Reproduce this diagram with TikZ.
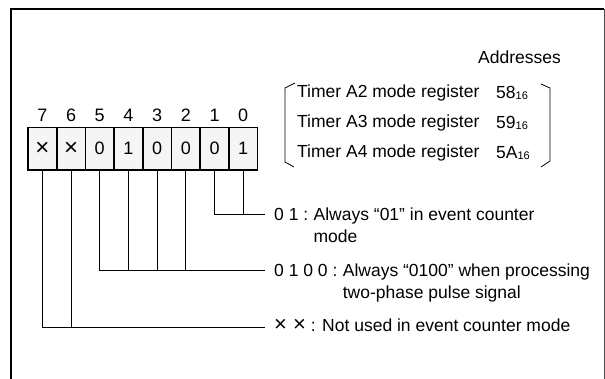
\documentclass[tikz,border=0pt]{standalone}
\usepackage{fontspec}
\setmainfont{Liberation Sans}
\newcommand{\hexsub}[1]{{\fontsize{11}{11}\selectfont\raisebox{-1pt}{#1}}}
\begin{document}
\begin{tikzpicture}[x=1pt,y=-1pt,
  txt/.style={inner sep=0pt, font=\fontsize{17.5}{22}\selectfont},
  cell/.style={draw, line width=1.6pt, fill=black!4, minimum width=28.7pt, minimum height=42.5pt, inner sep=0pt, font=\fontsize{18}{20}\selectfont},
  bitnum/.style={inner sep=0pt, font=\fontsize{18}{20}\selectfont},
  conn/.style={line width=0.8pt}]
\useasboundingbox (0,0) rectangle (605,379);
% frame
\draw[line width=2pt] (11,379) -- (11,9) -- (604,9);
\draw[line width=0.9pt, black!70] (604,9) -- (604,379);
% cells
\foreach \b/\v [count=\i from 0] in {7/{\fontsize{24}{24}\selectfont ×},6/{\fontsize{24}{24}\selectfont ×},5/0,4/1,3/0,2/0,1/0,0/1}{
  \node[cell] (c\b) at ({42.35+28.7*\i},148.75) {\v};
  \node[bitnum] (n\b) at ({42.35+28.7*\i},115) {\b};
}
% addresses
\node[txt, anchor=east] (addr) at (561,57) {Addresses};
\node[txt, anchor=west] (r1) at (297,93) {Timer A2 mode register};
\node[txt, anchor=west] (r2) at (297,123) {Timer A3 mode register};
\node[txt, anchor=west] (r3) at (297,153) {Timer A4 mode register};
\node[txt, anchor=west] (a1) at (496,93) {58\hexsub{16}};
\node[txt, anchor=west] (a2) at (496,123) {59\hexsub{16}};
\node[txt, anchor=west] (a3) at (496,153) {5A\hexsub{16}};
% brackets
\draw[conn] (295,83) -- (285,88) -- (285,162) -- (294,167);
\draw[conn] (541,84) -- (550,88) -- (550,161) -- (541,167);
% legends
\coordinate (e1) at (265,214);
\coordinate (e2) at (265,270);
\coordinate (e3) at (265,327);
\node[txt, anchor=west] (k1) at (274,214) {0 1 :};
\node[txt, anchor=north west, align=left, xshift=5pt] (d1) at (k1.north east) {Always “01” in event counter\\mode};
\node[txt, anchor=west] (k2) at (274,270) {0 1 0 0 :};
\node[txt, anchor=north west, align=left, xshift=5pt] (d2) at (k2.north east) {Always “0100” when processing\\two-phase pulse signal};
\node[txt, anchor=west] (k3) at (274,325) {{\fontsize{22}{22}\selectfont × ×} : Not used in event counter mode};
% connectors
\draw[conn] (c1.south) -- (c1.south |- e1) -- (e1);
\draw[conn] (c0.south) -- (c0.south |- e1);
\draw[conn] (c5.south) -- (c5.south |- e2) -- (e2);
\foreach \b in {4,3,2} \draw[conn] (c\b.south) -- (c\b.south |- e2);
\draw[conn] (c7.south) -- (c7.south |- e3) -- (e3);
\draw[conn] (c6.south) -- (c6.south |- e3);
\end{tikzpicture}
\end{document}
